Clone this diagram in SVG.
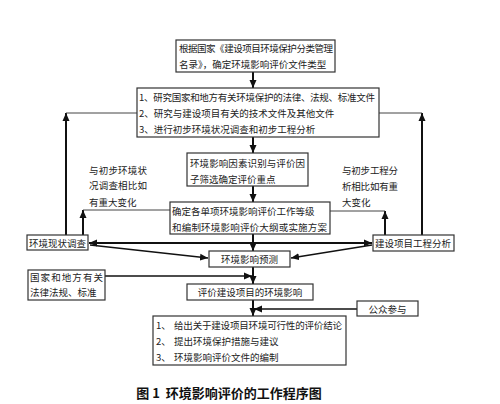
<svg xmlns="http://www.w3.org/2000/svg" width="500" height="404" viewBox="0 0 500 404">
<style>
.box{fill:#fff;stroke:#333;stroke-width:1.2}
.t{font-family:"Noto Sans CJK SC","Liberation Sans",sans-serif;font-size:9.5px;fill:#222}
.c{text-anchor:middle}
.thick{stroke:#111;stroke-width:2;fill:none}
.mid{stroke:#111;stroke-width:1.5;fill:none}
.thin{stroke:#444;stroke-width:1;fill:none}
.cap{font-family:"Noto Sans CJK SC","Liberation Sans",sans-serif;font-size:13px;font-weight:bold;fill:#111;text-anchor:middle}
</style>
<defs>
<marker id="ah" markerUnits="userSpaceOnUse" markerWidth="9" markerHeight="8" refX="8" refY="4" orient="auto">
<path d="M0,0.5 L8,4 L0,7.5 Z" fill="#111"/>
</marker>
<marker id="ahs" markerUnits="userSpaceOnUse" markerWidth="9" markerHeight="8" refX="1" refY="4" orient="auto">
<path d="M9,0.5 L1,4 L9,7.5 Z" fill="#111"/>
</marker>
</defs>
<rect width="500" height="404" fill="#fff"/>

<g id="connectors">
<line class="thick" x1="253" y1="72" x2="253" y2="88" marker-end="url(#ah)"/>
<line class="thick" x1="253" y1="137" x2="253" y2="153" marker-end="url(#ah)"/>
<line class="thick" x1="253" y1="186" x2="253" y2="202" marker-end="url(#ah)"/>
<line class="thick" x1="253" y1="234" x2="253" y2="251" marker-end="url(#ah)"/>
<line class="thick" x1="253" y1="267" x2="253" y2="284" marker-end="url(#ah)"/>
<line class="thick" x1="253" y1="300" x2="253" y2="316" marker-end="url(#ah)"/>
<line class="mid" x1="105" y1="276" x2="252" y2="276" marker-end="url(#ah)"/>
<line class="mid" x1="357" y1="309" x2="254" y2="309" marker-end="url(#ah)"/>
<line class="thick" x1="89" y1="243" x2="372" y2="243" marker-start="url(#ahs)" marker-end="url(#ah)"/>
<line class="mid" x1="90" y1="245" x2="208" y2="258" marker-end="url(#ah)"/>
<line class="mid" x1="372" y1="245" x2="291" y2="258" marker-end="url(#ah)"/>
<line class="thick" x1="66" y1="235" x2="66" y2="113" marker-end="url(#ah)"/>
<line class="thin" x1="66" y1="113" x2="137" y2="113"/>
<line class="thick" x1="83" y1="235" x2="83" y2="210" marker-end="url(#ah)"/>
<line class="thin" x1="83" y1="210" x2="170" y2="210"/>
<line class="thick" x1="385" y1="235" x2="385" y2="211" marker-end="url(#ah)"/>
<line class="thin" x1="330" y1="211" x2="385" y2="211"/>
<line class="thick" x1="422" y1="235" x2="422" y2="113" marker-end="url(#ah)"/>
<line class="thin" x1="379" y1="113" x2="422" y2="113"/>
</g>

<g id="n1">
<rect class="box" x="176" y="40" width="159" height="32"/>
<text class="t" x="179" y="51.5" textLength="154">根据国家《建设项目环境保护分类管理</text>
<text class="t" x="179" y="67.5">名录》，确定环境影响评价文件类型</text>
</g>

<g id="n2">
<rect class="box" x="137" y="88" width="242" height="49"/>
<text class="t" x="139" y="100.5" textLength="236">1、研究国家和地方有关环境保护的法律、法规、标准文件</text>
<text class="t" x="139" y="116.5">2、研究与建设项目有关的技术文件及其他文件</text>
<text class="t" x="139" y="132.5">3、进行初步环境状况调查和初步工程分析</text>
</g>

<g id="n3">
<rect class="box" x="187" y="153" width="121" height="33"/>
<text class="t" x="190" y="166.5" textLength="115">环境影响因素识别与评价因</text>
<text class="t" x="190" y="182.5">子筛选确定评价重点</text>
</g>

<g id="n4">
<rect class="box" x="170" y="202" width="160" height="32"/>
<text class="t" x="172" y="214.5">确定各单项环境影响评价工作等级</text>
<text class="t" x="172" y="230.5" textLength="155">和编制环境影响评价大纲或实施方案</text>
</g>

<g id="n5">
<rect class="box" x="27" y="235" width="61" height="15"/>
<text class="t" x="29" y="246.5">环境现状调查</text>
</g>

<g id="n6">
<rect class="box" x="373" y="235" width="81" height="16"/>
<text class="t" x="375" y="246.5">建设项目工程分析</text>
</g>

<g id="n7">
<rect class="box" x="209" y="251" width="81" height="16"/>
<text class="t c" x="249.5" y="262.5">环境影响预测</text>
</g>

<g id="n8">
<rect class="box" x="28" y="270" width="77" height="30"/>
<text class="t" x="30" y="280.5" textLength="73">国家和地方有关</text>
<text class="t" x="30" y="295.5">法律法规、标准</text>
</g>

<g id="n9">
<rect class="box" x="187" y="284" width="126" height="16"/>
<text class="t c" x="250" y="295.5">评价建设项目的环境影响</text>
</g>

<g id="n10">
<rect class="box" x="357" y="301" width="61" height="15"/>
<text class="t c" x="387.5" y="312.5">公众参与</text>
</g>

<g id="n11">
<rect class="box" x="153" y="316" width="193" height="49"/>
<text class="t" x="156" y="328.5">1、</text>
<text class="t" x="174" y="328.5" textLength="168">给出关于建设项目环境可行性的评价结论</text>
<text class="t" x="156" y="344.5">2、</text>
<text class="t" x="174" y="344.5">提出环境保护措施与建议</text>
<text class="t" x="156" y="360.5">3、</text>
<text class="t" x="174" y="360.5">环境影响评价文件的编制</text>
</g>

<g id="labels">
<text class="t" x="89" y="173.5" textLength="58">与初步环境状</text>
<text class="t" x="89" y="189" textLength="58">况调查相比如</text>
<text class="t" x="89" y="205.5">有重大变化</text>
<text class="t" x="342" y="173.5" textLength="56">与初步工程分</text>
<text class="t" x="342" y="189.5" textLength="56">析相比如有重</text>
<text class="t" x="342" y="205.5">大变化</text>
</g>

<text class="cap" x="229" y="397.5" xml:space="preserve">图 1  环境影响评价的工作程序图</text>
</svg>
